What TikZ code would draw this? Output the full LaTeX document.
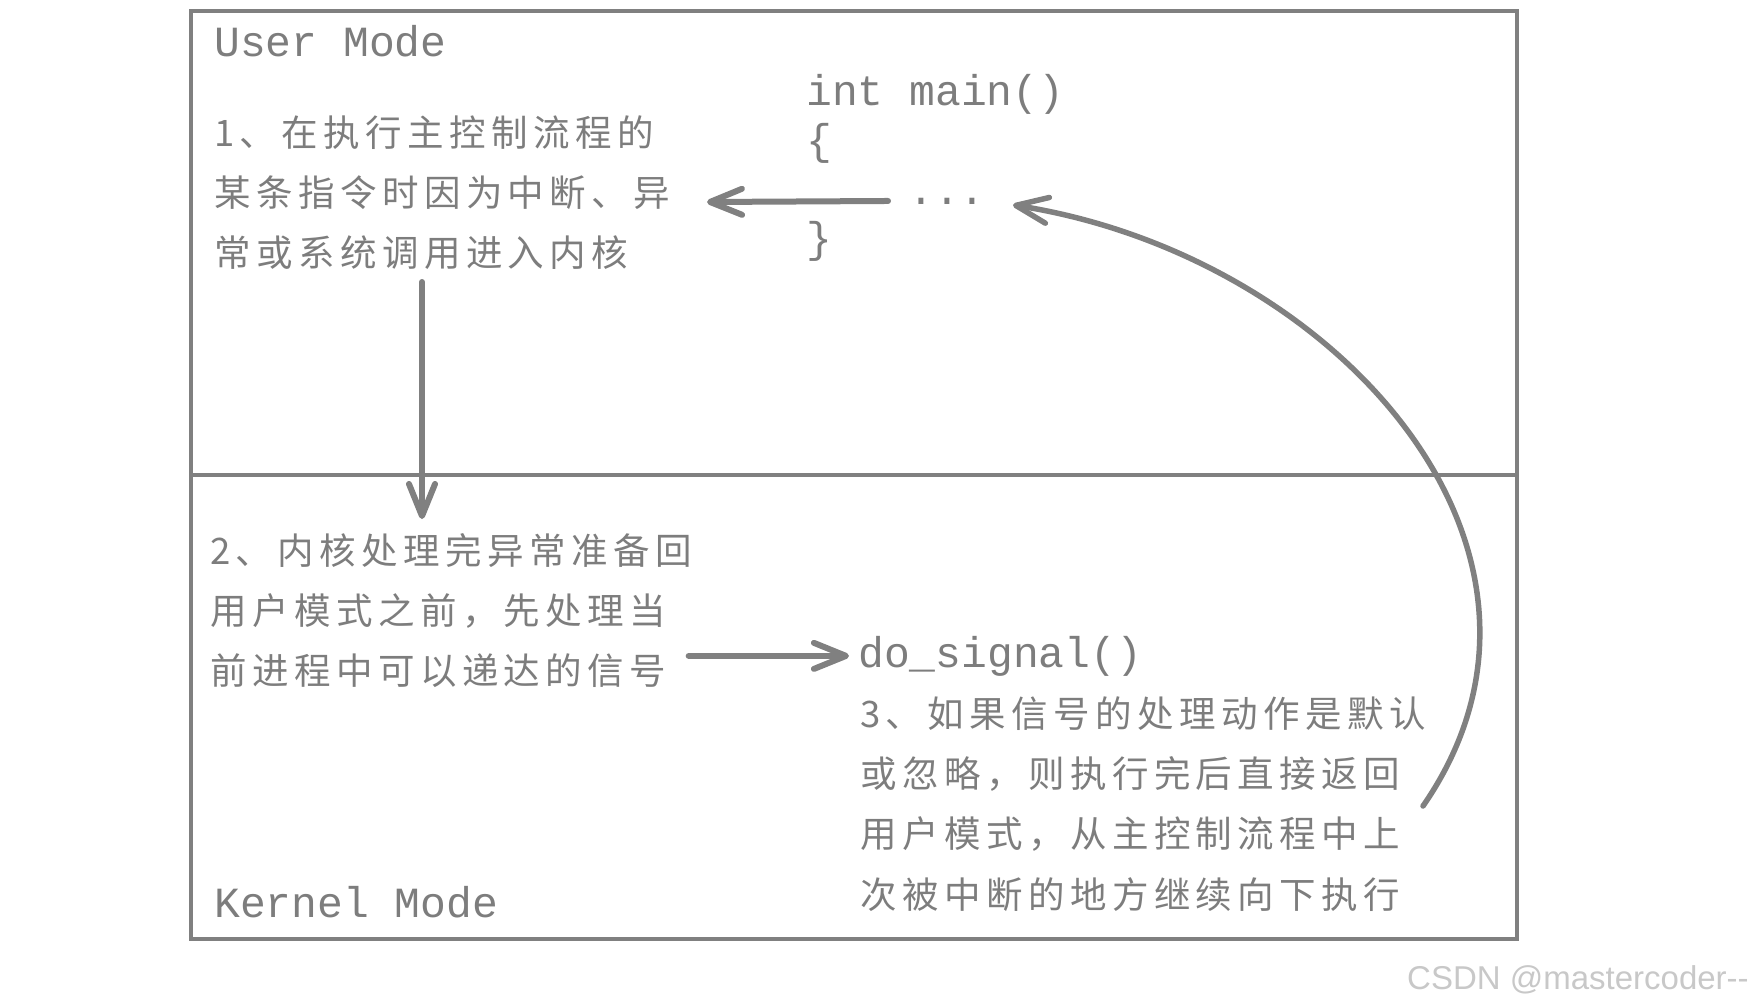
\documentclass[tikz,border=0pt]{standalone}
\usepackage{fontspec}
\usetikzlibrary{arrows.meta}
\setmonofont{Liberation Mono}
\newfontfamily\cjk[LetterSpace=15]{Noto Sans CJK SC}
\newfontfamily\wmfont{Liberation Sans}
\definecolor{linegray}{RGB}{128,128,128}
\definecolor{textgray}{RGB}{125,125,125}
\definecolor{wmgray}{RGB}{200,200,200}
\begin{document}
\begin{tikzpicture}[x=1pt,y=-1pt,
  frame/.style={draw=linegray, line width=4pt, inner sep=0pt, anchor=north west, minimum width=1326pt},
  code/.style={font=\ttfamily\fontsize{43}{49}\selectfont, text=textgray, inner sep=0pt, anchor=base west},
  cjkline/.style={font=\cjk\fontsize{36.5}{60}\selectfont, text=textgray, inner sep=0pt, anchor=base west},
  arr/.style={draw=linegray, line width=6pt, line cap=round, -{Straight Barb[length=32pt,width=26pt,round]}},
  ]
\useasboundingbox (0,0) rectangle (1752,1007);
% frames
\node[frame, minimum height=464pt] (user) at (189,9) {};
\node[frame, minimum height=464pt] (kernel) at (189,473) {};
% mode labels
\node[code] (um) at (214,56) {User Mode};
\node[code] (km) at (214,917) {Kernel Mode};
% code
\node[code] (mainl) at (806,105) {int main()};
\node[code] (lb) at (806,154) {\{};
\node[code] (dots) at (908,204) {...};
\node[code] (rb) at (806,252) {\}};
\node[code] (dosig) at (858,667) {do\_signal()};
% text 1
\node[cjkline] (t1a) at (214,146) {1、在执行主控制流程的};
\node[cjkline] (t1b) at (214,206) {某条指令时因为中断、异};
\node[cjkline] (t1c) at (214,266) {常或系统调用进入内核};
% text 2
\node[cjkline] (t2a) at (210,564) {2、内核处理完异常准备回};
\node[cjkline] (t2b) at (210,624) {用户模式之前，先处理当};
\node[cjkline] (t2c) at (210,684) {前进程中可以递达的信号};
% text 3
\node[cjkline] (t3a) at (860,727) {3、如果信号的处理动作是默认};
\node[cjkline] (t3b) at (860,787) {或忽略，则执行完后直接返回};
\node[cjkline] (t3c) at (860,847) {用户模式，从主控制流程中上};
\node[cjkline] (t3d) at (860,908) {次被中断的地方继续向下执行};
% watermark
\node[font=\wmfont\fontsize{33}{33}\selectfont, text=wmgray, inner sep=0pt, anchor=base west] (wm) at (1407,989) {CSDN @mastercoder--};
% connectors
\coordinate (aEnd) at (707,202);
\draw[arr, shorten <=20pt] (dots.west) -- (aEnd);
\coordinate (bS) at (422,282);
\coordinate (bE) at (422,519);
\draw[arr] (bS) -- (bE);
\draw[arr, shorten <=22pt, shorten >=9pt] (t2c.east |- dosig.west) -- (dosig.west);
\coordinate (dS) at (1423,806);
\coordinate (dE) at (1013,205);
\draw[arr, line width=5.5pt] (dS) .. controls (1600,550) and (1335,255) .. (dE);
\end{tikzpicture}
\end{document}
